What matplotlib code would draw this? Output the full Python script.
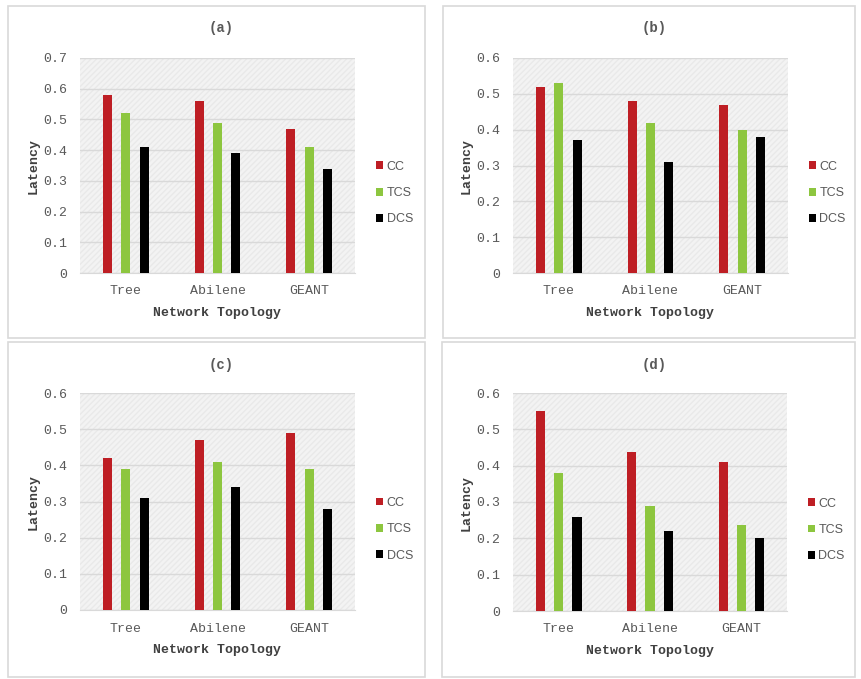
import matplotlib.pyplot as plt
from matplotlib.patches import Rectangle

# latency per topology for each scheme, one set of lists per sub-chart
topologies = ['Tree', 'Abilene', 'GEANT']
schemes = ['CC', 'TCS', 'DCS']

cc_a = [0.58, 0.56, 0.47]
tcs_a = [0.52, 0.49, 0.41]
dcs_a = [0.41, 0.39, 0.34]

cc_b = [0.52, 0.48, 0.47]
tcs_b = [0.53, 0.42, 0.40]
dcs_b = [0.37, 0.31, 0.38]

cc_c = [0.42, 0.47, 0.49]
tcs_c = [0.39, 0.41, 0.39]
dcs_c = [0.31, 0.34, 0.28]

cc_d = [0.55, 0.437, 0.41]
tcs_d = [0.38, 0.288, 0.237]
dcs_d = [0.258, 0.221, 0.20]

panels = [
    ('(a)', [cc_a, tcs_a, dcs_a], 0.7),
    ('(b)', [cc_b, tcs_b, dcs_b], 0.6),
    ('(c)', [cc_c, tcs_c, dcs_c], 0.6),
    ('(d)', [cc_d, tcs_d, dcs_d], 0.6),
]

colors = ['#be1e24', '#8dc63f', '#000000']
text_gray = '#595959'
mono = 'Liberation Mono'

W, H = 861, 679
fig = plt.figure(figsize=(W / 100, H / 100), dpi=100)
fig.patch.set_facecolor('white')

# pixel boxes: (panel frame), (plot area)
frames = [(8, 6, 425, 338), (443, 6, 855, 338), (8, 342, 425, 677), (442, 342, 855, 677)]
areas = [(80, 58, 355, 273), (513, 58, 788, 273), (80, 393, 355, 610), (513, 393, 787, 611)]


def fx(px):
    return px / W


def fy(py):
    return 1 - py / H


for (title, series, ymax), frame, area in zip(panels, frames, areas):
    x0, y0, x1, y1 = frame
    fig.patches.append(Rectangle((fx(x0), fy(y1)), fx(x1 - x0), (y1 - y0) / H,
                                 transform=fig.transFigure, fill=False,
                                 edgecolor='#d9d9d9', linewidth=1.2))
    l, t, r, b = area
    ax = fig.add_axes([fx(l), fy(b), fx(r - l), (b - t) / H])
    ax.set_facecolor('#f3f3f3')
    ax.add_patch(Rectangle((0, 0), 1, 1, transform=ax.transAxes, facecolor='none',
                           edgecolor='#e9e9e9', hatch='//////', linewidth=0, zorder=0))
    for i, (vals, name, c) in enumerate(zip(series, schemes, colors)):
        xs = [k + (i - 1) * 0.2 for k in range(len(topologies))]
        ax.bar(xs, vals, width=0.1, color=c, label=name, zorder=3)
    ax.set_xlim(-0.5, 2.5)
    ax.set_ylim(0, ymax)
    ticks = [k / 10 for k in range(int(round(ymax * 10)) + 1)]
    ax.set_yticks(ticks)
    ax.set_yticklabels(['0' if v == 0 else f'{v:.1f}' for v in ticks])
    ax.set_xticks(range(len(topologies)))
    ax.set_xticklabels(topologies)
    ax.grid(axis='y', color='#d9d9d9', linewidth=1, zorder=1)
    for s in ['top', 'right', 'left']:
        ax.spines[s].set_visible(False)
    ax.spines['bottom'].set_color('#d9d9d9')
    ax.tick_params(length=0, colors=text_gray, labelsize=9.5)
    ax.tick_params(axis='x', pad=9)
    ax.tick_params(axis='y', pad=9)
    for lab in ax.get_xticklabels() + ax.get_yticklabels():
        lab.set_fontfamily(mono)
    cx = (l + r) / 2
    fig.text(fx(cx + 4), fy(t - 30 if title in ('(a)', '(b)') else t - 28), title,
             ha='center', va='center', family=mono, fontweight='bold',
             fontsize=10, color=text_gray)
    fig.text(fx(cx), fy(b + 40), 'Network Topology', ha='center', va='center',
             family=mono, fontweight='bold', fontsize=9.5, color='#404040')
    fig.text(fx(l - 46), fy((t + b) / 2 + 1), 'Latency', ha='center', va='center',
             rotation=90, family=mono, fontweight='bold', fontsize=9.5, color='#404040')
    leg = ax.legend(loc='center left', bbox_to_anchor=(1.035, 0.372), frameon=False,
                    handlelength=0.6, handleheight=0.6, handletextpad=0.25,
                    labelspacing=1.15, prop={'family': 'Liberation Sans', 'size': 9})
    for txt in leg.get_texts():
        txt.set_color(text_gray)

fig.savefig('out.png', dpi=100)
